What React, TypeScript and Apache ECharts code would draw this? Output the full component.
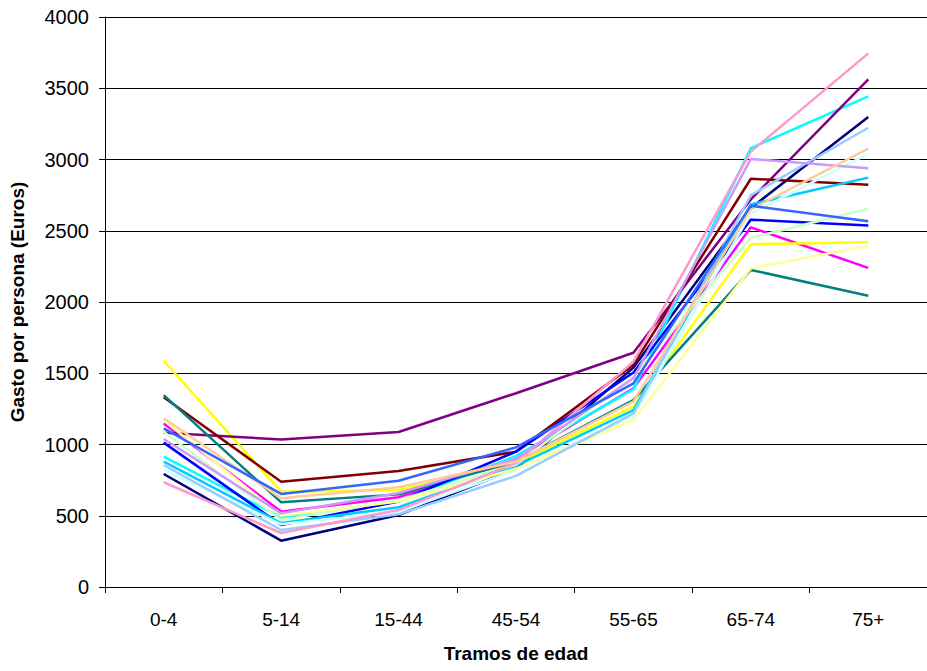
import React, { useEffect, useRef } from "react";
import * as echarts from "echarts";

const categories = ["0-4", "5-14", "15-44", "45-54", "55-65", "65-74", "75+"];

const sNavy = [793, 325, 505, 830, 1540, 2660, 3298];
const sMagenta = [1148, 529, 630, 900, 1395, 2524, 2239];
const sYellow = [1588, 669, 680, 870, 1266, 2405, 2419];
const sCyan = [915, 489, 600, 920, 1387, 3080, 3443];
const sPurple = [1083, 1035, 1088, 1360, 1644, 2720, 3563];
const sMaroon = [1331, 739, 814, 950, 1560, 2865, 2823];
const sTeal = [1347, 594, 650, 880, 1312, 2225, 2044];
const sBlue = [1013, 435, 600, 950, 1505, 2578, 2536];
const sDeepSky = [880, 449, 560, 850, 1242, 2685, 2873];
const sLightCyan = [821, 440, 530, 820, 1200, 2620, 3039];
const sLightGreen = [1090, 470, 610, 860, 1476, 2450, 2655];
const sLightYellow = [1170, 500, 600, 830, 1172, 2236, 2395];
const sPaleBlue = [856, 400, 510, 780, 1219, 2750, 3223];
const sPink = [735, 379, 540, 870, 1581, 3055, 3745];
const sLavender = [1039, 517, 660, 900, 1465, 3004, 2938];
const sPeach = [1184, 622, 700, 880, 1301, 2650, 3076];
const sRoyal = [1113, 653, 746, 980, 1429, 2676, 2566];

const seriesList: [number[], string][] = [
  [sNavy, "#000080"],
  [sMagenta, "#FF00FF"],
  [sYellow, "#FFFF00"],
  [sCyan, "#00FFFF"],
  [sPurple, "#800080"],
  [sMaroon, "#800000"],
  [sTeal, "#008080"],
  [sBlue, "#0000FF"],
  [sDeepSky, "#00CCFF"],
  [sLightCyan, "#CCFFFF"],
  [sLightGreen, "#CCFFCC"],
  [sLightYellow, "#FFFF99"],
  [sPaleBlue, "#99CCFF"],
  [sPink, "#FF99CC"],
  [sLavender, "#CC99FF"],
  [sPeach, "#FFCC99"],
  [sRoyal, "#3366FF"],
];

export default function App() {
  const ref = useRef<HTMLDivElement>(null);
  useEffect(() => {
    document.body.style.margin = "0";
    const chart = echarts.init(ref.current!, undefined, { renderer: "svg" });
    const font = "Arial, 'Liberation Sans', sans-serif";
    chart.setOption({
      animation: false,
      backgroundColor: "#ffffff",
      grid: { left: 105, right: -4, top: 17, bottom: 84 },
      xAxis: {
        type: "category",
        data: categories,
        boundaryGap: true,
        name: "Tramos de edad",
        nameLocation: "middle",
        nameGap: 57,
        nameTextStyle: { fontFamily: font, fontSize: 19, fontWeight: "bold", color: "#000" },
        axisLine: { lineStyle: { color: "#000", width: 1 } },
        axisTick: { show: true, length: 6, lineStyle: { color: "#000" } },
        axisLabel: { fontFamily: font, fontSize: 19, color: "#000", margin: 23 },
        splitLine: { show: false },
      },
      yAxis: {
        type: "value",
        min: 0,
        max: 4000,
        interval: 500,
        name: "Gasto por persona (Euros)",
        nameLocation: "middle",
        nameGap: 78,
        nameTextStyle: { fontFamily: font, fontSize: 19, fontWeight: "bold", color: "#000" },
        axisLine: { show: true, lineStyle: { color: "#000", width: 1 } },
        axisTick: { show: true, length: 6, lineStyle: { color: "#000" } },
        axisLabel: {
          fontFamily: font,
          fontSize: 20,
          color: "#000",
          margin: 16,
          formatter: (v: number) => String(v),
        },
        splitLine: { show: true, lineStyle: { color: "#000", width: 1 } },
      },
      series: seriesList.map(([data, color]) => ({
        type: "line",
        data,
        symbol: "none",
        lineStyle: { color, width: 2.5 },
        itemStyle: { color },
      })),
    });
    return () => chart.dispose();
  }, []);
  return <div ref={ref} style={{ width: 927, height: 671 }} />;
}
